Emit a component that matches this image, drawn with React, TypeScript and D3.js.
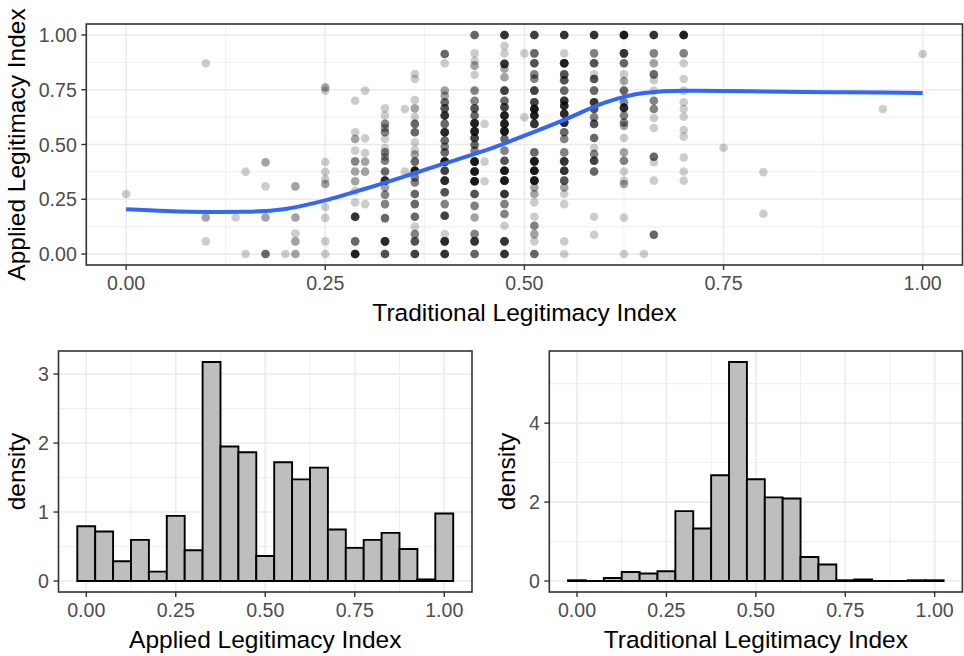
import React from 'react';
import * as d3 from 'd3';

// scatter points: [traditional index, applied index, number of overlapping observations]
const scatter: [number, number, number][] = [
  [0.0, 0.274, 1],
  [0.1, 0.871, 1], [0.1, 0.167, 2], [0.1, 0.058, 1],
  [0.1375, 0.167, 1],
  [0.15, 0.376, 1], [0.15, 0, 1],
  [0.175, 0.419, 2], [0.175, 0.309, 1], [0.175, 0.167, 2], [0.175, 0, 4],
  [0.2, 0, 1],
  [0.2125, 0.309, 2], [0.2125, 0.167, 2], [0.2125, 0.094, 1], [0.2125, 0.058, 2], [0.2125, 0, 2],
  [0.25, 0.76, 2], [0.25, 0.745, 1], [0.25, 0.42, 1], [0.25, 0.375, 1], [0.25, 0.34, 1], [0.25, 0.32, 2],
  [0.25, 0.215, 1], [0.25, 0.165, 1], [0.25, 0.058, 1], [0.25, 0, 1],
  [0.2875, 0.7, 1], [0.2875, 0.556, 1], [0.2875, 0.525, 2], [0.2875, 0.472, 1], [0.2875, 0.423, 3],
  [0.2875, 0.377, 2], [0.2875, 0.332, 2], [0.2875, 0.289, 1], [0.2875, 0.236, 1], [0.2875, 0.17, 7],
  [0.2875, 0.058, 4], [0.2875, 0, 9],
  [0.3, 0.746, 1], [0.3, 0.528, 1], [0.3, 0.461, 1], [0.3, 0.422, 2], [0.3, 0.376, 2], [0.3, 0.228, 1],
  [0.325, 0.665, 1], [0.325, 0.632, 1], [0.325, 0.594, 3], [0.325, 0.575, 2], [0.325, 0.556, 3],
  [0.325, 0.525, 1], [0.325, 0.484, 1], [0.325, 0.464, 3], [0.325, 0.444, 2], [0.325, 0.426, 3],
  [0.325, 0.377, 4], [0.325, 0.335, 8], [0.325, 0.304, 2], [0.325, 0.271, 3], [0.325, 0.228, 3],
  [0.325, 0.164, 4], [0.325, 0.058, 8], [0.325, 0, 5],
  [0.35, 0.662, 1], [0.35, 0.377, 1],
  [0.3625, 0.822, 1], [0.3625, 0.799, 1], [0.3625, 0.703, 1], [0.3625, 0.665, 2], [0.3625, 0.627, 1],
  [0.3625, 0.594, 4], [0.3625, 0.556, 4], [0.3625, 0.51, 1], [0.3625, 0.475, 1], [0.3625, 0.454, 2],
  [0.3625, 0.422, 4], [0.3625, 0.38, 10], [0.3625, 0.35, 3], [0.3625, 0.327, 3], [0.3625, 0.274, 4],
  [0.3625, 0.228, 4], [0.3625, 0.17, 4], [0.3625, 0.125, 1], [0.3625, 0.091, 3], [0.3625, 0.058, 5],
  [0.3625, 0, 6],
  [0.4, 0.913, 4], [0.4, 0.871, 1], [0.4, 0.746, 2], [0.4, 0.723, 2], [0.4, 0.693, 4], [0.4, 0.665, 5],
  [0.4, 0.632, 7], [0.4, 0.594, 4], [0.4, 0.556, 8], [0.4, 0.518, 4], [0.4, 0.49, 3], [0.4, 0.464, 4],
  [0.4, 0.422, 10], [0.4, 0.38, 6], [0.4, 0.335, 8], [0.4, 0.282, 5], [0.4, 0.228, 3], [0.4, 0.175, 6],
  [0.4, 0.091, 1], [0.4, 0.058, 8], [0.4, 0, 7],
  [0.4375, 1, 4], [0.4375, 0.916, 1], [0.4375, 0.882, 1], [0.4375, 0.86, 2], [0.4375, 0.818, 1],
  [0.4375, 0.746, 3], [0.4375, 0.7, 3], [0.4375, 0.665, 5], [0.4375, 0.632, 4], [0.4375, 0.597, 9],
  [0.4375, 0.56, 9], [0.4375, 0.53, 6], [0.4375, 0.499, 4], [0.4375, 0.472, 3], [0.4375, 0.422, 10],
  [0.4375, 0.377, 10], [0.4375, 0.332, 10], [0.4375, 0.274, 5], [0.4375, 0.22, 3], [0.4375, 0.167, 2],
  [0.4375, 0.091, 3], [0.4375, 0.058, 7], [0.4375, 0, 4],
  [0.45, 0.594, 1], [0.45, 0.422, 1], [0.45, 0.332, 1],
  [0.475, 1, 7], [0.475, 0.95, 1], [0.475, 0.916, 1], [0.475, 0.868, 7], [0.475, 0.846, 2],
  [0.475, 0.807, 2], [0.475, 0.746, 6], [0.475, 0.7, 4], [0.475, 0.67, 6], [0.475, 0.632, 9],
  [0.475, 0.594, 9], [0.475, 0.56, 10], [0.475, 0.525, 4], [0.475, 0.472, 3], [0.475, 0.426, 5],
  [0.475, 0.38, 10], [0.475, 0.335, 10], [0.475, 0.274, 7], [0.475, 0.228, 3], [0.475, 0.183, 3],
  [0.475, 0.129, 1], [0.475, 0.058, 7], [0.475, 0, 7],
  [0.5, 0.916, 1], [0.5, 0.624, 1],
  [0.5125, 1, 6], [0.5125, 0.916, 4], [0.5125, 0.871, 5], [0.5125, 0.82, 3], [0.5125, 0.8, 3],
  [0.5125, 0.746, 6], [0.5125, 0.693, 6], [0.5125, 0.662, 10], [0.5125, 0.632, 9], [0.5125, 0.594, 7],
  [0.5125, 0.464, 4], [0.5125, 0.423, 10], [0.5125, 0.38, 10], [0.5125, 0.335, 10], [0.5125, 0.304, 2],
  [0.5125, 0.274, 2], [0.5125, 0.236, 1], [0.5125, 0.17, 1], [0.5125, 0.129, 3], [0.5125, 0.091, 2],
  [0.5125, 0.058, 1], [0.5125, 0, 4],
  [0.55, 1, 7], [0.55, 0.916, 1], [0.55, 0.871, 9], [0.55, 0.82, 5], [0.55, 0.793, 5], [0.55, 0.746, 4],
  [0.55, 0.7, 7], [0.55, 0.677, 8], [0.55, 0.64, 8], [0.55, 0.6, 8], [0.55, 0.556, 4], [0.55, 0.525, 3],
  [0.55, 0.464, 3], [0.55, 0.423, 7], [0.55, 0.38, 7], [0.55, 0.335, 5], [0.55, 0.304, 2],
  [0.55, 0.274, 1], [0.55, 0.228, 1], [0.55, 0.058, 1], [0.55, 0, 1],
  [0.5875, 1, 7], [0.5875, 0.916, 3], [0.5875, 0.871, 5], [0.5875, 0.82, 1], [0.5875, 0.799, 5],
  [0.5875, 0.746, 4], [0.5875, 0.693, 7], [0.5875, 0.662, 5], [0.5875, 0.624, 3], [0.5875, 0.594, 5],
  [0.5875, 0.53, 4], [0.5875, 0.484, 1], [0.5875, 0.457, 3], [0.5875, 0.426, 6], [0.5875, 0.377, 4],
  [0.5875, 0.17, 1], [0.5875, 0.088, 1],
  [0.625, 1, 10], [0.625, 0.916, 7], [0.625, 0.871, 4], [0.625, 0.82, 1], [0.625, 0.79, 2],
  [0.625, 0.746, 4], [0.625, 0.693, 3], [0.625, 0.667, 8], [0.625, 0.632, 3], [0.625, 0.6, 3],
  [0.625, 0.585, 2], [0.625, 0.53, 1], [0.625, 0.464, 2], [0.625, 0.426, 3], [0.625, 0.377, 1],
  [0.625, 0.335, 1], [0.625, 0.32, 2], [0.625, 0.167, 1], [0.625, 0, 1],
  [0.65, 0, 1],
  [0.6625, 1, 7], [0.6625, 0.916, 3], [0.6625, 0.871, 2], [0.6625, 0.82, 4], [0.6625, 0.793, 1],
  [0.6625, 0.746, 1], [0.6625, 0.7, 3], [0.6625, 0.662, 3], [0.6625, 0.621, 1], [0.6625, 0.575, 1],
  [0.6625, 0.444, 4], [0.6625, 0.419, 1], [0.6625, 0.335, 1], [0.6625, 0.088, 4],
  [0.7, 1, 9], [0.7, 0.916, 3], [0.7, 0.871, 1], [0.7, 0.799, 1], [0.7, 0.746, 1], [0.7, 0.693, 1],
  [0.7, 0.662, 1], [0.7, 0.627, 1], [0.7, 0.566, 1], [0.7, 0.536, 1], [0.7, 0.441, 1], [0.7, 0.377, 1],
  [0.7, 0.335, 1],
  [0.75, 0.485, 1],
  [0.8, 0.374, 1], [0.8, 0.184, 1],
  [0.95, 0.662, 1],
  [1.0, 0.913, 1],
];

// smoothed (loess) trend
const smoothX = [0, 0.05, 0.1, 0.15, 0.2, 0.25, 0.3, 0.35, 0.4, 0.45, 0.5, 0.55, 0.6, 0.65, 0.7, 0.75, 0.8, 0.85, 0.9, 0.95, 1];
const smoothY = [0.204, 0.196, 0.192, 0.193, 0.206, 0.245, 0.298, 0.355, 0.414, 0.472, 0.54, 0.612, 0.69, 0.735, 0.745, 0.744, 0.742, 0.74, 0.738, 0.737, 0.735];

// histogram bins (width 0.05)
const binCenters = [0, 0.05, 0.1, 0.15, 0.2, 0.25, 0.3, 0.35, 0.4, 0.45, 0.5, 0.55, 0.6, 0.65, 0.7, 0.75, 0.8, 0.85, 0.9, 0.95, 1];
const appliedDensity = [0.795, 0.717, 0.286, 0.596, 0.136, 0.945, 0.446, 3.175, 1.949, 1.866, 0.364, 1.721, 1.474, 1.643, 0.746, 0.48, 0.596, 0.698, 0.465, 0.024, 0.979];
const traditionalDensity = [0.02, 0, 0.076, 0.23, 0.19, 0.25, 1.77, 1.33, 2.68, 5.55, 2.58, 2.12, 2.09, 0.61, 0.42, 0.02, 0.04, 0, 0, 0.02, 0.02];

const unitTicks = [0, 0.25, 0.5, 0.75, 1];
const unitLabels = ['0.00', '0.25', '0.50', '0.75', '1.00'];
const appliedDensityTicks = [0, 1, 2, 3];
const traditionalDensityTicks = [0, 2, 4];

const FONT = '"Liberation Sans", Arial, Helvetica, sans-serif';
const GRID = '#EBEBEB';
const INK = '#333333';
const TICK_TEXT = '#4D4D4D';
const TICK_SIZE = 19.6;
const TITLE_SIZE = 24.5;

type Box = { left: number; right: number; top: number; bottom: number };

function minorOf(ticks: number[], domain: number[]) {
  const step = ticks[1] - ticks[0];
  const out: number[] = [];
  for (let t = ticks[0] - step / 2; t <= domain[1]; t += step) {
    if (t >= domain[0]) out.push(t);
  }
  return out;
}

function Frame(props: {
  box: Box;
  x: d3.ScaleLinear<number, number>;
  y: d3.ScaleLinear<number, number>;
  xTicks: number[];
  xLabels: string[];
  yTicks: number[];
  yLabels: string[];
  xTitle: string;
  yTitle: string;
  yTitleX: number;
  children?: React.ReactNode;
}) {
  const { box, x, y, xTicks, xLabels, yTicks, yLabels, xTitle, yTitle, yTitleX, children } = props;
  const xMinor = minorOf(xTicks, x.domain());
  const yMinor = minorOf(yTicks, y.domain());
  const midY = (box.top + box.bottom) / 2;
  return (
    <g>
      <rect x={box.left} y={box.top} width={box.right - box.left} height={box.bottom - box.top} fill="#fff" />
      {xMinor.map((t) => (
        <line key={'xm' + t} x1={x(t)} x2={x(t)} y1={box.top} y2={box.bottom} stroke={GRID} strokeWidth={0.8} />
      ))}
      {yMinor.map((t) => (
        <line key={'ym' + t} x1={box.left} x2={box.right} y1={y(t)} y2={y(t)} stroke={GRID} strokeWidth={0.8} />
      ))}
      {xTicks.map((t) => (
        <line key={'xg' + t} x1={x(t)} x2={x(t)} y1={box.top} y2={box.bottom} stroke={GRID} strokeWidth={1.6} />
      ))}
      {yTicks.map((t) => (
        <line key={'yg' + t} x1={box.left} x2={box.right} y1={y(t)} y2={y(t)} stroke={GRID} strokeWidth={1.6} />
      ))}
      {children}
      <rect x={box.left} y={box.top} width={box.right - box.left} height={box.bottom - box.top}
        fill="none" stroke={INK} strokeWidth={1.6} />
      {xTicks.map((t, i) => (
        <g key={'xt' + t}>
          <line x1={x(t)} x2={x(t)} y1={box.bottom} y2={box.bottom + 5} stroke={INK} strokeWidth={1.4} />
          <text x={x(t)} y={box.bottom + 25.3} textAnchor="middle" fontSize={TICK_SIZE} fill={TICK_TEXT}>{xLabels[i]}</text>
        </g>
      ))}
      {yTicks.map((t, i) => (
        <g key={'yt' + t}>
          <line x1={box.left - 5} x2={box.left} y1={y(t)} y2={y(t)} stroke={INK} strokeWidth={1.4} />
          <text x={box.left - 9.5} y={y(t) + 7} textAnchor="end" fontSize={TICK_SIZE} fill={TICK_TEXT}>{yLabels[i]}</text>
        </g>
      ))}
      <text x={(box.left + box.right) / 2} y={box.bottom + 56} textAnchor="middle" fontSize={TITLE_SIZE} fill="#000">{xTitle}</text>
      <text x={yTitleX} y={midY} transform={`rotate(-90, ${yTitleX}, ${midY})`} textAnchor="middle"
        fontSize={TITLE_SIZE} fill="#000">{yTitle}</text>
    </g>
  );
}

function Histogram({ box, density, ticks, xTitle, yTitleX }: {
  box: Box; density: number[]; ticks: number[]; xTitle: string; yTitleX: number;
}) {
  const half = 0.025;
  const lo = binCenters[0] - half;
  const hi = binCenters[binCenters.length - 1] + half;
  const pad = (hi - lo) * 0.05;
  const x = d3.scaleLinear().domain([lo - pad, hi + pad]).range([box.left, box.right]);
  const yMax = d3.max(density) as number;
  const y = d3.scaleLinear().domain([-0.05 * yMax, 1.05 * yMax]).range([box.bottom, box.top]);
  return (
    <Frame box={box} x={x} y={y} xTicks={unitTicks} xLabels={unitLabels}
      yTicks={ticks} yLabels={ticks.map(String)} xTitle={xTitle} yTitle="density" yTitleX={yTitleX}>
      {binCenters.map((c, i) => {
        const x0 = x(c - half);
        const x1 = x(c + half);
        const y0 = y(0);
        const y1 = y(density[i]);
        // a path (not a rect) so that empty bins still show as a flat outline
        return (
          <path key={i} d={`M${x0},${y0}V${y1}H${x1}V${y0}Z`}
            fill="#BEBEBE" stroke="#000" strokeWidth={1.9} strokeLinejoin="miter" />
        );
      })}
    </Frame>
  );
}

export default function App() {
  const topBox: Box = { left: 86.3, right: 962.5, top: 24, bottom: 265 };
  const x = d3.scaleLinear().domain([-0.05, 1.05]).range([topBox.left, topBox.right]);
  const y = d3.scaleLinear().domain([-0.05, 1.05]).range([topBox.bottom, topBox.top]);
  const smoothLine = d3.line<number>()
    .x((_, i) => x(smoothX[i]))
    .y((d) => y(d))
    .curve(d3.curveMonotoneX);

  return (
    <svg width={964} height={656} fontFamily={FONT}
      style={{ position: 'absolute', left: 0, top: 0, background: '#fff', display: 'block' }}>
      <Frame box={topBox} x={x} y={y} xTicks={unitTicks} xLabels={unitLabels} yTicks={unitTicks} yLabels={unitLabels}
        xTitle="Traditional Legitimacy Index" yTitle="Applied Legitimacy Index" yTitleX={25}>
        {scatter.map(([tx, ay, n], i) =>
          d3.range(n).map((k) => (
            <circle key={i + '-' + k} cx={x(tx)} cy={y(ay)} r={4.3} fill="#000" fillOpacity={0.2} />
          ))
        )}
        <path d={smoothLine(smoothY) || ''} fill="none" stroke="#3366FF" strokeWidth={4} />
      </Frame>
      <Histogram box={{ left: 58.5, right: 472, top: 351, bottom: 592 }} density={appliedDensity}
        ticks={appliedDensityTicks} xTitle="Applied Legitimacy Index" yTitleX={25} />
      <Histogram box={{ left: 549.3, right: 962.4, top: 351, bottom: 592 }} density={traditionalDensity}
        ticks={traditionalDensityTicks} xTitle="Traditional Legitimacy Index" yTitleX={515} />
    </svg>
  );
}
